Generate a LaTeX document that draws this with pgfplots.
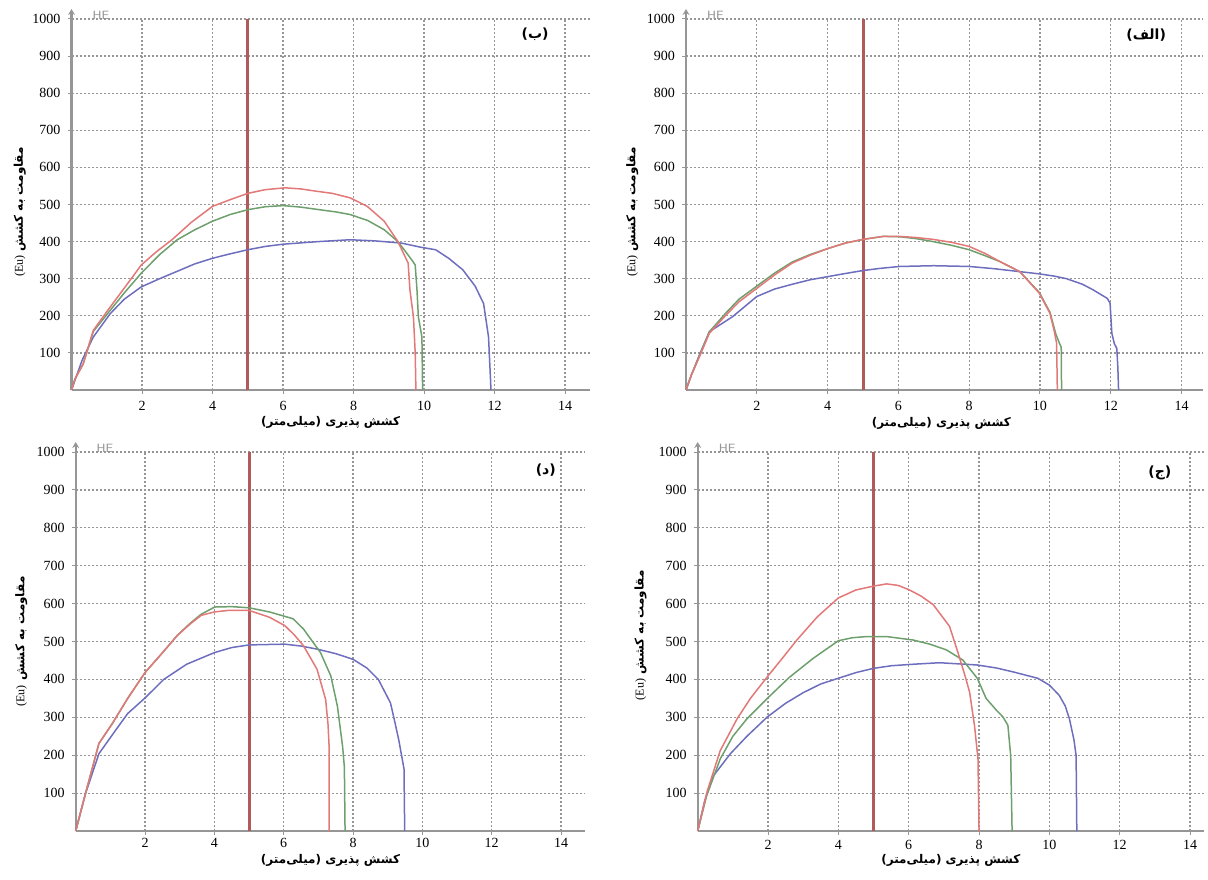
\documentclass[border=0pt]{standalone}
\usepackage{pgfplots}
\pgfplotsset{compat=1.18}
\usepackage{fontspec}
\setmainfont{Liberation Serif}
\newfontfamily\arabicfont[Script=Arabic]{DejaVu Sans}
\newfontfamily\parfont{DejaVu Sans}
\usetikzlibrary{arrows.meta}
\TeXXeTstate=1
\definecolor{cred}{RGB}{226,120,120}
\definecolor{cgreen}{RGB}{110,160,110}
\definecolor{cblue}{RGB}{110,110,190}
\definecolor{cvline}{RGB}{176,90,90}
\definecolor{cgrid}{RGB}{150,150,150}
\definecolor{caxis}{RGB}{150,150,150}
\newcommand{\xlab}{\arabicfont\bfseries\fontsize{6}{7}\selectfont {\parfont\bfseries(}\beginR میلی‌متر\endR{\parfont\bfseries)}\ \beginR کشش پذیری\endR}
\newcommand{\ylab}{\arabicfont\bfseries\fontsize{6}{7}\selectfont {\rmfamily\mdseries (Eu)}\ \beginR مقاومت به کشش\endR}
\newcommand{\plab}[1]{{\parfont\bfseries\fontsize{7}{8}\selectfont(}{\arabicfont\bfseries\fontsize{7}{8}\selectfont\beginR #1\endR}{\parfont\bfseries\fontsize{7}{8}\selectfont)}}
\pgfplotsset{panel/.style={
  scale only axis, anchor=south west, clip=false,
  xmin=0, ymin=0, ymax=1000,
  axis x line*=bottom, axis y line*=left,
  x axis line style={caxis, line width=0.7pt},
  y axis line style={caxis, line width=1.1pt, -{Stealth[length=3pt,width=3.5pt]}, shorten >=-5pt},
  xtick={2,4,...,14}, ytick={100,200,...,1000},
  tick align=outside, major tick length=2pt,
  tick style={caxis, line width=0.5pt},
  grid=major,
  major grid style={cgrid, line width=0.6pt, dash pattern=on 1.1pt off 0.9pt},
  tick label style={font=\fontsize{7}{8}\selectfont},
  /pgf/number format/assume math mode=true,
  /pgf/number format/set thousands separator={},
  xlabel={\xlab}, ylabel={\ylab},
  every axis plot/.append style={line width=0.75pt},
}}
\newcommand{\HE}{\node[anchor=west, text=caxis, font=\sffamily\fontsize{6}{6}\selectfont] at (axis cs:0.4,1010) {HE};}
\begin{document}
\begin{tikzpicture}
\useasboundingbox (0,0) rectangle (604pt,439.5pt);
% ---------------- top-left (ب)
\begin{axis}[panel, at={(35.75pt,244.5pt)}, width=259.1pt, height=185.5pt, xmax=14.7,
  xlabel style={at={(axis description cs:0.5,0)}, anchor=center, yshift=-16pt},
  ylabel style={at={(axis description cs:-0.1,0.48)}, anchor=center}]
\addplot[cvline, line width=1.5pt] coordinates {(5,0)(5,1000)};
\addplot[cblue] coordinates {(0,0)(0.3,80)(0.62,143)(1.1,206)(1.5,245)(1.98,278)(2.5,300)(3.0,320)(3.5,340)(4.0,355)(4.5,367)(5.0,378)(5.5,387)(6.0,393)(7.0,400)(7.9,405)(8.6,402)(9.36,396)(9.9,385)(10.33,378)(10.7,355)(11.1,324)(11.45,280)(11.69,233)(11.83,143)(11.9,0)};
\addplot[cgreen] coordinates {(0,0)(0.1,30)(0.33,70)(0.62,158)(1.1,215)(1.5,262)(1.98,315)(2.5,365)(3.0,405)(3.5,432)(4.0,455)(4.5,473)(5.0,486)(5.5,494)(6.0,497)(6.5,493)(7.03,486)(7.5,480)(7.9,473)(8.4,457)(8.87,432)(9.26,400)(9.5,370)(9.65,351)(9.75,337)(9.8,270)(9.84,197)(9.94,143)(9.96,0)};
\addplot[cred] coordinates {(0,0)(0.1,30)(0.33,70)(0.62,161)(1.1,224)(1.5,275)(1.98,337)(2.4,372)(2.85,405)(3.4,452)(4.0,495)(4.5,513)(5.0,530)(5.5,540)(6.06,545)(6.5,542)(6.93,536)(7.4,530)(7.9,518)(8.39,495)(8.87,455)(9.26,400)(9.55,342)(9.6,270)(9.7,197)(9.75,100)(9.77,0)};
\node at (axis cs:13.15,960) {\plab{ب}};
\HE
\end{axis}
% ---------------- top-right (الف)
\begin{axis}[panel, at={(343pt,244.5pt)}, width=258.4pt, height=185.5pt, xmax=14.6,
  xlabel style={at={(axis description cs:0.494,0)}, anchor=center, yshift=-16.5pt},
  ylabel style={at={(axis description cs:-0.104,0.48)}, anchor=center}]
\addplot[cvline, line width=1.5pt] coordinates {(5,0)(5,1000)};
\addplot[cblue] coordinates {(0,0)(0.15,40)(0.38,95)(0.66,157)(1.32,198)(2.0,252)(2.5,272)(3.0,285)(3.5,297)(4.03,306)(4.5,314)(5.0,322)(5.5,328)(6.04,333)(7.0,335)(8.0,333)(8.7,327)(9.43,319)(9.98,313)(10.4,307)(10.75,300)(11.2,285)(11.5,270)(11.9,247)(11.98,234)(12.03,153)(12.1,125)(12.17,112)(12.2,60)(12.22,0)};
\addplot[cgreen] coordinates {(0,0)(0.15,40)(0.38,92)(0.66,157)(1.13,208)(1.5,245)(2.0,280)(2.5,315)(3.0,345)(3.5,365)(4.03,382)(4.5,396)(5.0,406)(5.57,414)(6.04,413)(6.5,408)(6.98,400)(7.5,390)(8.0,378)(8.45,362)(8.87,346)(9.43,319)(9.98,263)(10.28,210)(10.45,150)(10.55,126)(10.6,115)(10.61,0)};
\addplot[cred] coordinates {(0,0)(0.15,40)(0.38,90)(0.66,153)(1.13,202)(1.5,238)(2.0,274)(2.5,310)(3.0,342)(3.5,363)(4.03,382)(4.5,396)(5.0,406)(5.57,414)(6.04,414)(6.5,411)(6.98,406)(7.5,398)(8.0,387)(8.45,368)(8.87,346)(9.43,319)(9.98,261)(10.28,207)(10.4,160)(10.47,126)(10.49,0)};
\node at (axis cs:13.0,957) {\plab{الف}};
\HE
\end{axis}
% ---------------- bottom-left (د)
\begin{axis}[panel, at={(37.85pt,24pt)}, width=254.8pt, height=189.5pt, xmax=14.7,
  xticklabel style={yshift=2pt},
  xlabel style={at={(axis description cs:0.5,0)}, anchor=center, yshift=-14.5pt},
  ylabel style={at={(axis description cs:-0.107,0.5)}, anchor=center}]
\addplot[cvline, line width=1.5pt] coordinates {(5,0)(5,1000)};
\addplot[cblue] coordinates {(0,0)(0.28,98)(0.67,204)(1.16,267)(1.5,310)(2.0,351)(2.54,400)(3.2,440)(4.01,471)(4.5,484)(5.0,491)(6.03,493)(6.5,488)(6.96,480)(7.5,468)(8.0,453)(8.4,430)(8.73,400)(9.08,338)(9.2,290)(9.32,240)(9.47,164)(9.49,0)};
\addplot[cgreen] coordinates {(0,0)(0.28,98)(0.67,231)(1.06,284)(1.5,350)(2.0,418)(2.5,470)(2.93,516)(3.3,548)(3.62,572)(4.01,591)(4.5,592)(5.0,589)(5.59,578)(6.27,560)(6.57,533)(7.06,471)(7.36,409)(7.55,329)(7.7,222)(7.75,169)(7.77,0)};
\addplot[cred] coordinates {(0,0)(0.28,98)(0.67,231)(1.06,284)(1.5,350)(2.0,418)(2.5,470)(2.93,516)(3.3,546)(3.62,569)(4.0,578)(4.4,582)(5.0,582)(5.59,564)(6.03,542)(6.3,518)(6.57,489)(6.96,427)(7.21,347)(7.28,280)(7.31,222)(7.31,0)};
\node at (axis cs:13.56,952) {\plab{د}};
\HE
\end{axis}
% ---------------- bottom-right (ج)
\begin{axis}[panel, at={(348.85pt,24pt)}, width=253.2pt, height=189.5pt, xmax=14.4,
  xticklabel style={yshift=1pt},
  xlabel style={at={(axis description cs:0.5,0)}, anchor=center, yshift=-14.5pt},
  ylabel style={at={(axis description cs:-0.113,0.517)}, anchor=center}]
\addplot[cvline, line width=1.5pt] coordinates {(5,0)(5,1000)};
\addplot[cblue] coordinates {(0,0)(0.2,80)(0.45,146)(0.93,204)(1.4,250)(1.98,301)(2.5,337)(3.0,365)(3.5,388)(4.0,403)(4.5,418)(4.99,429)(5.5,436)(6.12,440)(6.88,444)(7.95,438)(8.5,430)(8.96,420)(9.67,403)(10.0,385)(10.28,358)(10.45,330)(10.57,296)(10.7,240)(10.76,199)(10.78,0)};
\addplot[cgreen] coordinates {(0,0)(0.26,95)(0.64,190)(1.0,250)(1.4,296)(1.98,350)(2.6,405)(3.29,456)(4.0,502)(4.4,510)(4.8,513)(5.37,513)(6.12,504)(6.6,493)(7.07,478)(7.54,451)(7.95,403)(8.2,350)(8.5,318)(8.68,301)(8.82,279)(8.9,199)(8.94,0)};
\addplot[cred] coordinates {(0,0)(0.26,102)(0.64,212)(1.12,296)(1.5,350)(1.98,407)(2.4,455)(2.82,504)(3.4,565)(4.0,615)(4.5,636)(4.99,646)(5.37,652)(5.7,648)(6.0,637)(6.35,620)(6.7,597)(7.16,540)(7.3,500)(7.45,456)(7.6,410)(7.73,367)(7.87,279)(7.97,190)(8.0,0)};
\node at (axis cs:13.14,945) {\plab{ج}};
\HE
\end{axis}
\end{tikzpicture}
\end{document}
